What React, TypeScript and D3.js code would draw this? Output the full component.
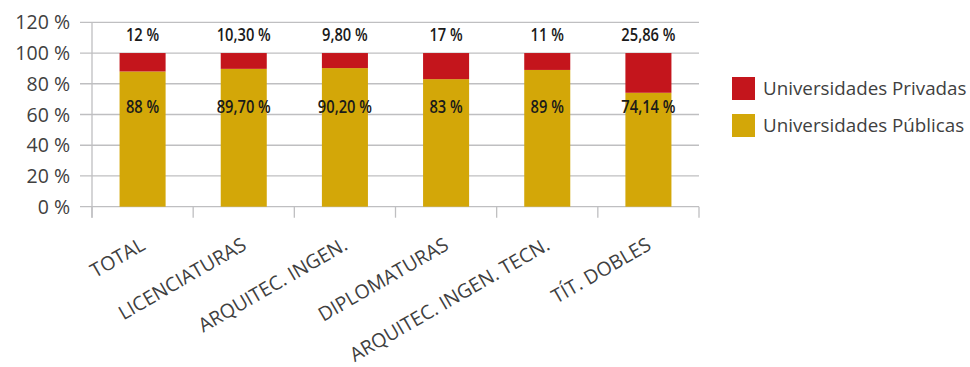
import React from "react";
import * as d3 from "d3";

const categories = ["TOTAL", "LICENCIATURAS", "ARQUITEC. INGEN.", "DIPLOMATURAS", "ARQUITEC. INGEN. TECN.", "TÍT. DOBLES"];
const publicas = [88, 89.7, 90.2, 83, 89, 74.14];
const privadas = [12, 10.3, 9.8, 17, 11, 25.86];
const publicasLabels = ["88 %", "89,70 %", "90,20 %", "83 %", "89 %", "74,14 %"];
const privadasLabels = ["12 %", "10,30 %", "9,80 %", "17 %", "11 %", "25,86 %"];
const yTicks = [0, 20, 40, 60, 80, 100, 120];
const seriesNames = ["Universidades Privadas", "Universidades Públicas"];

const RED = "#C4151C";
const GOLD = "#D3A708";
const GRID = "#BFBFC1";
const TXT = "#404040";

export default function App() {
  const W = 970, H = 367;
  const x0 = 92, x1 = 699, yTop = 22.3, yBot = 206.7;
  const x = d3.scaleBand<string>().domain(categories).range([x0, x1]).paddingInner(0.545).paddingOuter(0.2725);
  const y = d3.scaleLinear().domain([0, 120]).range([yBot, yTop]);
  const step = (x1 - x0) / categories.length;
  const bounds = d3.range(categories.length + 1).map((i) => x0 + i * step);
  const uiFont = "'Open Sans', 'Noto Sans', sans-serif";
  const lblFont = "'Open Sans', 'Noto Sans', sans-serif";
  const cond = 0.84;

  return (
    <svg width={W} height={H} style={{ position: "absolute", left: 0, top: 0, background: "#fff" }}>
      {/* gridlines */}
      {yTicks.map((t) => (
        <line key={t} x1={x0 - 12} x2={x1} y1={y(t)} y2={y(t)} stroke={GRID} strokeWidth={1.3} />
      ))}
      {/* y axis */}
      <line x1={x0} x2={x0} y1={y(120)} y2={yBot + 11} stroke={GRID} strokeWidth={1.3} />
      {/* x ticks */}
      {bounds.map((b, i) => (
        <line key={i} x1={b} x2={b} y1={yBot} y2={yBot + 11} stroke={GRID} strokeWidth={1.3} />
      ))}
      {/* y tick labels */}
      {yTicks.map((t) => (
        <text key={t} x={70} y={y(t)} dy="0.36em" textAnchor="end" fontFamily={uiFont} fontSize={19.5} fill={TXT}>
          {t} %
        </text>
      ))}
      {/* bars */}
      {categories.map((c, i) => {
        const cx = x(c)! + x.bandwidth() / 2;
        return (
          <g key={c}>
            <rect x={x(c)} width={x.bandwidth()} y={y(publicas[i])} height={y(0) - y(publicas[i])} fill={GOLD} />
            <rect x={x(c)} width={x.bandwidth()} y={y(publicas[i] + privadas[i])} height={y(publicas[i]) - y(publicas[i] + privadas[i])} fill={RED} />
            <text transform={`translate(${cx},${y(100) - 12}) scale(${cond},1)`} textAnchor="middle" fontFamily={lblFont} fontWeight={600} fontSize={17.5} fill="#1a1a1a">
              {privadasLabels[i]}
            </text>
            <text transform={`translate(${cx},${y(61)}) scale(${cond},1)`} textAnchor="middle" fontFamily={lblFont} fontWeight={600} fontSize={17.5} fill="#1a1a1a">
              {publicasLabels[i]}
            </text>
            <text
              transform={`translate(${cx + 4},${yBot + 42}) rotate(-30)`}
              textAnchor="end"
              fontFamily={uiFont}
              fontSize={19.5}
              fill={TXT}
            >
              {c}
            </text>
          </g>
        );
      })}
      {/* legend */}
      {seriesNames.map((s, i) => (
        <g key={s} transform={`translate(732,${77 + i * 37})`}>
          <rect width={23} height={23} fill={i === 0 ? RED : GOLD} />
          <text x={31} y={11.5} dy="0.36em" fontFamily={uiFont} fontSize={18.8} fill={TXT}>
            {s}
          </text>
        </g>
      ))}
    </svg>
  );
}
